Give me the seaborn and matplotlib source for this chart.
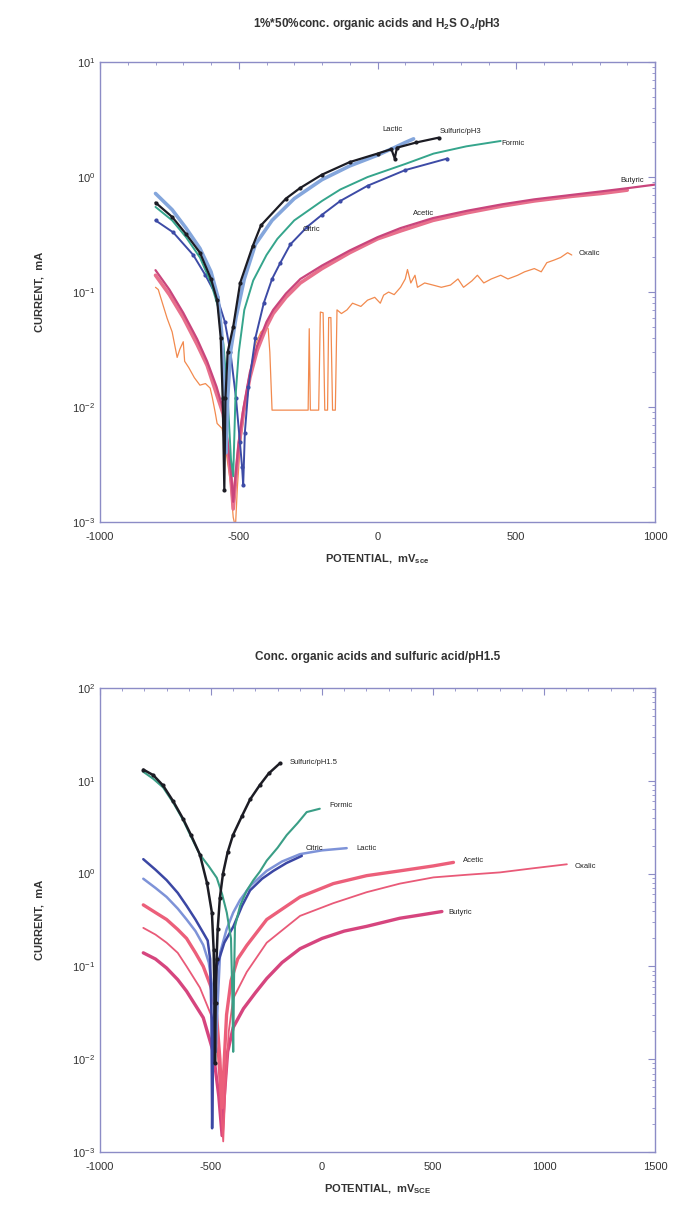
import matplotlib
matplotlib.use("Agg")
import matplotlib.pyplot as plt
from matplotlib.ticker import MultipleLocator, LogLocator, NullFormatter
import pandas as pd
import seaborn as sns

# ---- top panel: 1%-50% conc. organic acids and H2SO4 / pH3 ----
sulf3_mv = [-800, -740, -690, -640, -600, -578, -565, -558, -552, -548, -540, -520, -495, -450,
            -420, -330, -280, -200, -100, 0, 50, 62, 70, 140, 220]
sulf3_ma = [0.60, 0.45, 0.32, 0.22, 0.13, 0.085, 0.04, 0.012, 0.0019, 0.012, 0.03, 0.05, 0.12, 0.25,
            0.38, 0.65, 0.80, 1.05, 1.35, 1.6, 1.75, 1.45, 1.8, 2.0, 2.2]

lactic3_mv = [-800, -740, -690, -640, -600, -575, -562, -553, -546, -540, -530, -510, -480, -440,
              -380, -300, -200, -100, 0, 60, 100, 130]
lactic3_ma = [0.72, 0.52, 0.36, 0.24, 0.15, 0.09, 0.045, 0.015, 0.004, 0.012, 0.03, 0.06, 0.13, 0.26,
              0.42, 0.65, 0.95, 1.25, 1.55, 1.8, 2.0, 2.15]

formic3_mv = [-800, -740, -690, -640, -600, -575, -555, -540, -528, -520, -512, -500, -480, -448,
              -400, -361, -300, -200, -134, -36, 100, 202, 320, 444]
formic3_ma = [0.55, 0.42, 0.30, 0.20, 0.12, 0.075, 0.035, 0.012, 0.0035, 0.0025, 0.012, 0.03, 0.07, 0.126,
              0.21, 0.29, 0.42, 0.62, 0.78, 1.0, 1.3, 1.6, 1.85, 2.06]

citric3_mv = [-800, -736, -664, -620, -578, -550, -530, -510, -496, -488, -484, -478, -465, -440,
              -410, -380, -350, -314, -253, -200, -134, -36, 100, 252]
citric3_ma = [0.42, 0.33, 0.21, 0.14, 0.09, 0.055, 0.03, 0.012, 0.005, 0.003, 0.0021, 0.006, 0.015, 0.04,
              0.08, 0.13, 0.18, 0.26, 0.37, 0.47, 0.62, 0.84, 1.15, 1.45]

acetic3_mv = [-800, -750, -700, -650, -614, -580, -556, -540, -528, -520, -512, -500, -484, -460,
              -434, -400, -376, -330, -278, -200, -100, 0, 83, 200, 324, 450, 565, 700, 805, 900]
acetic3_ma = [0.14, 0.095, 0.06, 0.035, 0.023, 0.013, 0.0087, 0.0045, 0.0024, 0.0013, 0.0022, 0.0045,
              0.0087, 0.018, 0.031, 0.05, 0.065, 0.09, 0.12, 0.16, 0.22, 0.29, 0.34, 0.42, 0.49, 0.56,
              0.62, 0.68, 0.72, 0.77]

butyric3_mv = [-800, -750, -700, -650, -614, -580, -556, -540, -528, -520, -512, -500, -484, -460,
               -434, -400, -376, -330, -278, -200, -100, 0, 83, 200, 324, 450, 565, 700, 805, 900, 1000]
butyric3_ma = [0.155, 0.105, 0.066, 0.039, 0.025, 0.015, 0.0095, 0.005, 0.0027, 0.0015, 0.0025, 0.005,
               0.0095, 0.02, 0.034, 0.055, 0.07, 0.097, 0.13, 0.17, 0.23, 0.30, 0.36, 0.44, 0.51, 0.58,
               0.64, 0.70, 0.75, 0.80, 0.86]

oxalic3_mv = [-800, -790, -775, -758, -740, -722, -712, -700, -695, -680, -660, -640, -620, -603,
              -595, -585, -578, -560, -545, -530, -520, -512, -505, -495, -480, -460, -440, -420,
              -400, -394, -388, -380, -330, -250, -246, -242, -238, -212, -206, -196, -190, -180,
              -176, -168, -162, -152, -146, -130, -110, -90, -60, -36, -10, 10, 22, 40, 60, 83,
              100, 108, 120, 135, 144, 170, 200, 230, 263, 290, 310, 340, 360, 383, 410, 444, 470,
              505, 530, 565, 590, 610, 637, 660, 685, 700]
oxalic3_ma = [0.11, 0.105, 0.08, 0.059, 0.045, 0.027, 0.032, 0.037, 0.025, 0.022, 0.018, 0.0155, 0.016,
              0.0146, 0.012, 0.009, 0.0072, 0.0065, 0.004, 0.0022, 0.0011, 0.0009, 0.002, 0.0046,
              0.009, 0.02, 0.035, 0.045, 0.05, 0.048, 0.03, 0.0094, 0.0094, 0.0094, 0.048, 0.0094,
              0.0094, 0.0094, 0.067, 0.066, 0.0094, 0.0094, 0.06, 0.06, 0.0094, 0.0094, 0.07, 0.065,
              0.07, 0.08, 0.075, 0.085, 0.09, 0.08, 0.094, 0.1, 0.095, 0.11, 0.13, 0.157, 0.12, 0.14,
              0.11, 0.12, 0.115, 0.11, 0.115, 0.13, 0.11, 0.125, 0.14, 0.12, 0.13, 0.14, 0.13, 0.14,
              0.15, 0.16, 0.15, 0.18, 0.19, 0.2, 0.22, 0.21]

# ---- bottom panel: conc. organic acids and sulfuric acid / pH1.5 ----
sulf15_mv = [-805, -760, -716, -670, -626, -590, -550, -518, -496, -488, -484, -482, -479, -475,
             -470, -460, -446, -425, -401, -360, -324, -280, -240, -189]
sulf15_ma = [13.2, 11.5, 8.9, 6.0, 3.9, 2.6, 1.6, 0.79, 0.38, 0.15, 0.04, 0.009, 0.04, 0.12,
             0.25, 0.55, 1.0, 1.7, 2.6, 4.2, 6.3, 9.0, 12.0, 15.5]

formic15_mv = [-805, -760, -716, -670, -626, -590, -550, -510, -474, -450, -429, -410, -404, -400,
               -396, -392, -369, -340, -309, -280, -249, -200, -159, -110, -69, -10]
formic15_ma = [12.5, 10.5, 8.5, 5.8, 3.8, 2.5, 1.6, 1.2, 0.9, 0.6, 0.38, 0.2, 0.05, 0.012,
               0.08, 0.27, 0.45, 0.65, 0.85, 1.05, 1.38, 1.9, 2.6, 3.5, 4.6, 5.0]

citric15_mv = [-805, -750, -700, -650, -610, -570, -535, -515, -504, -498, -495, -490, -474, -440,
               -399, -360, -324, -270, -219, -160, -91]
citric15_ma = [1.43, 1.1, 0.85, 0.62, 0.45, 0.32, 0.23, 0.19, 0.12, 0.03, 0.0018, 0.02, 0.10, 0.18,
               0.27, 0.45, 0.66, 0.88, 1.07, 1.3, 1.55]

lactic15_mv = [-805, -750, -700, -650, -610, -570, -535, -510, -490, -478, -470, -459, -430, -400,
               -369, -320, -249, -180, -99, 0, 111]
lactic15_ma = [0.88, 0.7, 0.56, 0.42, 0.32, 0.24, 0.17, 0.11, 0.05, 0.012, 0.04, 0.14, 0.25, 0.38,
               0.52, 0.75, 1.07, 1.35, 1.62, 1.78, 1.88]

acetic15_mv = [-805, -750, -700, -650, -610, -570, -535, -500, -475, -460, -450, -440, -430, -410,
               -380, -339, -249, -99, 51, 201, 351, 502, 592]
acetic15_ma = [0.46, 0.38, 0.32, 0.25, 0.20, 0.14, 0.10, 0.06, 0.03, 0.01, 0.003, 0.01, 0.03, 0.07,
               0.12, 0.168, 0.32, 0.56, 0.78, 0.95, 1.07, 1.21, 1.32]

oxalic15_mv = [-805, -750, -700, -650, -610, -550, -500, -470, -455, -445, -435, -420, -400, -369,
               -339, -249, -99, 51, 201, 351, 502, 650, 802, 950, 1103]
oxalic15_ma = [0.26, 0.22, 0.18, 0.14, 0.10, 0.059, 0.03, 0.012, 0.003, 0.0013, 0.005, 0.02, 0.045,
               0.063, 0.087, 0.18, 0.35, 0.48, 0.63, 0.78, 0.91, 0.97, 1.03, 1.14, 1.26]

butyric15_mv = [-805, -750, -700, -650, -610, -535, -490, -465, -450, -440, -425, -400, -354, -300,
                -249, -180, -99, 0, 100, 201, 350, 450, 540]
butyric15_ma = [0.14, 0.12, 0.096, 0.072, 0.054, 0.028, 0.012, 0.004, 0.0015, 0.004, 0.012, 0.022,
                0.035, 0.052, 0.074, 0.11, 0.155, 0.2, 0.24, 0.27, 0.33, 0.36, 0.39]

top_series = [
    ("Oxalic", oxalic3_mv, oxalic3_ma, "#f28a4e", 0.9, None),
    ("Acetic", acetic3_mv, acetic3_ma, "#e8708c", 2.6, None),
    ("Butyric", butyric3_mv, butyric3_ma, "#c9457c", 1.6, None),
    ("Citric", citric3_mv, citric3_ma, "#3d4ba6", 1.4, "o"),
    ("Formic", formic3_mv, formic3_ma, "#35a58c", 1.4, None),
    ("Lactic", lactic3_mv, lactic3_ma, "#84a6dc", 2.6, None),
    ("Sulfuric/pH3", sulf3_mv, sulf3_ma, "#1c1c24", 1.6, "o"),
]
top_labels = [("Lactic", 54, 2.6, "center"), ("Sulfuric/pH3", 225, 2.47, "left"),
              ("Formic", 448, 1.95, "left"), ("Butyric", 960, 0.93, "right"),
              ("Acetic", 166, 0.48, "center"), ("Citric", -270, 0.35, "left"),
              ("Oxalic", 726, 0.215, "left")]

bottom_series = [
    ("Butyric", butyric15_mv, butyric15_ma, "#d6457e", 2.4, None),
    ("Oxalic", oxalic15_mv, oxalic15_ma, "#e95a78", 1.3, None),
    ("Acetic", acetic15_mv, acetic15_ma, "#ec5f7a", 2.4, None),
    ("Lactic", lactic15_mv, lactic15_ma, "#7e93d8", 1.8, None),
    ("Citric", citric15_mv, citric15_ma, "#3b47a4", 1.8, None),
    ("Formic", formic15_mv, formic15_ma, "#3a9e86", 1.5, None),
    ("Sulfuric/pH1.5", sulf15_mv, sulf15_ma, "#1c1c24", 1.8, "o"),
]
bottom_labels = [("Sulfuric/pH1.5", -144, 15.7), ("Formic", 33, 5.4), ("Citric", -72, 1.86),
                 ("Lactic", 157, 1.86), ("Acetic", 634, 1.37), ("Oxalic", 1140, 1.19),
                 ("Butyric", 570, 0.385)]

sns.set_theme(style="white")
plt.rcParams["font.family"] = ["Liberation Sans", "DejaVu Sans"]
plt.rcParams["axes.unicode_minus"] = False
frame_col = "#8c8cc6"

fig = plt.figure(figsize=(6.78, 12.22), dpi=100)
ax1 = fig.add_axes([0.1475, 0.5728, 0.8186, 0.3764])
ax2 = fig.add_axes([0.1475, 0.0573, 0.8186, 0.3797])


def draw(ax, series):
    for name, mv, ma, col, lw, mk in series:
        df = pd.DataFrame({"mv": mv, "ma": ma})
        sns.lineplot(data=df, x="mv", y="ma", ax=ax, color=col, lw=lw, sort=False,
                     estimator=None, marker=mk, markersize=3, markeredgewidth=0)


def style(ax, xlim, ylim, title, sub, tpad):
    ax.set_yscale("log")
    ax.set_xlim(*xlim)
    ax.set_ylim(*ylim)
    ax.xaxis.set_major_locator(MultipleLocator(500))
    ax.xaxis.set_minor_locator(MultipleLocator(100))
    ax.yaxis.set_major_locator(LogLocator(base=10, numticks=10))
    ax.yaxis.set_minor_locator(LogLocator(base=10, subs=range(2, 10), numticks=10))
    ax.yaxis.set_minor_formatter(NullFormatter())
    ax.tick_params(which="both", direction="in", top=True, right=True, color=frame_col,
                   labelsize=8, labelcolor="#333333")
    ax.tick_params(axis="x", which="major", pad=7)
    ax.tick_params(which="major", length=5, width=0.8)
    ax.tick_params(which="minor", length=2.5, width=0.6)
    for sp in ax.spines.values():
        sp.set_color(frame_col)
        sp.set_linewidth(1.0)
    ax.set_title(title, fontsize=8.5, fontweight="bold", color="#333333", pad=tpad)
    ax.set_xlabel("POTENTIAL,  mV$_{\\mathregular{%s}}$" % sub, fontsize=8, fontweight="bold",
                  color="#333333", labelpad=8)
    ax.set_ylabel("CURRENT,  mA", fontsize=8, fontweight="bold", color="#333333", labelpad=20)
    ax.grid(False)


draw(ax1, top_series)
for txt, x, y, ha in top_labels:
    ax1.text(x, y, txt, fontsize=5.5, ha=ha, va="center", color="#222222")
style(ax1, (-1000, 1000), (1e-3, 10),
      "1%*50%conc. organic acids and H$_\\mathregular{2}$S O$_\\mathregular{4}$/pH3", "sce", 25)

draw(ax2, bottom_series)
for txt, x, y in bottom_labels:
    ax2.text(x, y, txt, fontsize=5.5, ha="left", va="center", color="#222222")
style(ax2, (-1000, 1500), (1e-3, 100), "Conc. organic acids and sulfuric acid/pH1.5", "SCE", 20)

fig.savefig("out.png", dpi=100)
